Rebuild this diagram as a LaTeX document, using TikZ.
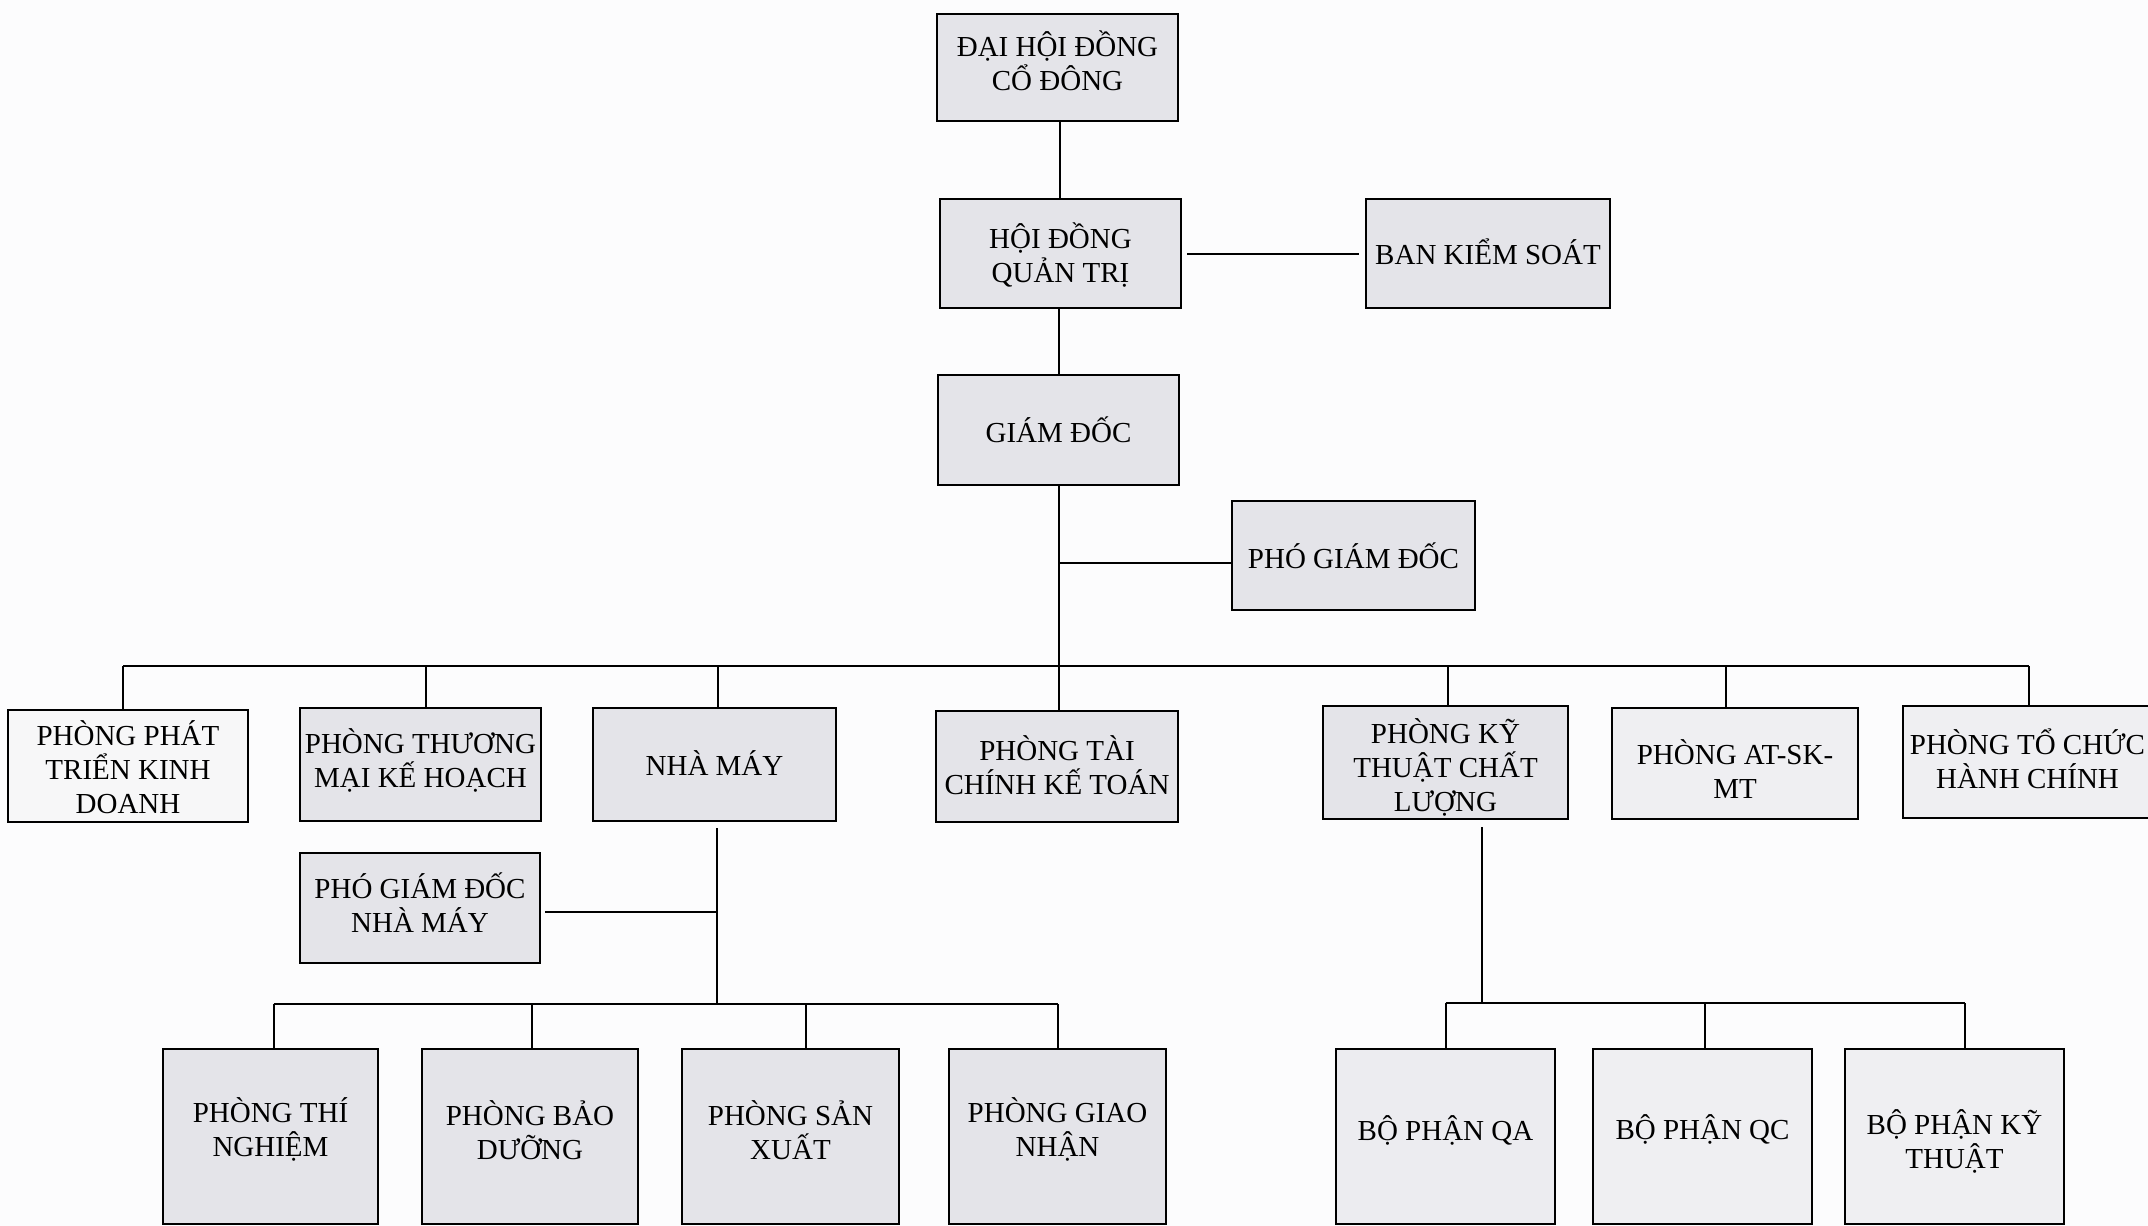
\documentclass[tikz,border=0pt]{standalone}
\usepackage{fontspec}
\setmainfont{Liberation Serif}
\definecolor{gfill}{RGB}{228,228,233}
\definecolor{lfill}{RGB}{239,239,242}
\definecolor{wfill}{RGB}{247,247,248}
\definecolor{bgc}{RGB}{252,252,253}
\tikzset{
  obx/.style={draw=black, line width=1.1pt, inner sep=0pt},
  otxt/.style={inner sep=0pt, align=center,
    font=\fontsize{14.5}{17}\selectfont, text=black},
  conn/.style={line width=1pt, draw=black}
}
% \obox{name}{x}{y}{width pt}{height pt}{fill}{text shift pt}{text}
\newcommand\obox[8]{%
  \node[obx, fill=#6, minimum width=#4pt, minimum height=#5pt] (#1) at (#2,#3) {};
  \node[otxt] (#1-t) at ([yshift=#7pt]#1.center) {#8};}
\begin{document}
\begin{tikzpicture}[x=0.5pt,y=-0.5pt]
\useasboundingbox (0,0) rectangle (2148,1226);
\fill[bgc] (0,0) rectangle (2148,1226);

% top levels
\obox{dh}{1057.5}{67.5}{120.5}{53.5}{gfill}{3.4}{ĐẠI HỘI ĐỒNG\\CỔ ĐÔNG}
\obox{hd}{1060.5}{253.5}{120.5}{54.5}{gfill}{-0.7}{HỘI ĐỒNG\\QUẢN TRỊ}
\obox{bks}{1488}{253.5}{122}{54.5}{gfill}{0.7}{BAN KIỂM SOÁT}
\obox{gd}{1058.5}{430}{120.5}{55}{gfill}{0}{GIÁM ĐỐC}
\obox{pgd}{1353.5}{555.5}{121.5}{54.5}{gfill}{0}{PHÓ GIÁM ĐỐC}

% second row
\obox{p1}{128}{766}{120}{56}{wfill}{-0.7}{PHÒNG PHÁT\\TRIỂN KINH\\DOANH}
\obox{p2}{420.5}{764.5}{120.5}{56.5}{gfill}{2}{PHÒNG THƯƠNG\\MẠI KẾ HOẠCH}
\obox{p3}{714.5}{764.5}{121.5}{56.5}{gfill}{0.7}{NHÀ MÁY}
\obox{p4}{1057}{766.5}{121}{55.5}{gfill}{0.7}{PHÒNG TÀI\\CHÍNH KẾ TOÁN}
\obox{p5}{1445.5}{762.5}{122.5}{56.5}{gfill}{-2.4}{PHÒNG KỸ\\THUẬT CHẤT\\LƯỢNG}
\obox{p6}{1735}{763.5}{123}{55.5}{lfill}{-2.7}{PHÒNG AT-SK-\\MT}
\obox{p7}{2027.5}{762}{124.5}{56}{lfill}{1.4}{PHÒNG TỔ CHỨC\\HÀNH CHÍNH}

% factory deputy
\obox{pg2}{420}{908}{120}{55}{gfill}{2.7}{PHÓ GIÁM ĐỐC\\NHÀ MÁY}

% third row left
\obox{b1}{270.5}{1136.5}{107.5}{87.5}{gfill}{3.3}{PHÒNG THÍ\\NGHIỆM}
\obox{b2}{530}{1136.5}{108}{87.5}{gfill}{3.3}{PHÒNG BẢO\\DƯỠNG}
\obox{b3}{790.5}{1136.5}{108.5}{87.5}{gfill}{3.3}{PHÒNG SẢN\\XUẤT}
\obox{b4}{1057.5}{1136.5}{108.5}{87.5}{gfill}{3.3}{PHÒNG GIAO\\NHẬN}

% third row right
\obox{q1}{1445.5}{1136.5}{109.5}{87.5}{gfill!70!white}{3.2}{BỘ PHẬN QA}
\obox{q2}{1702.5}{1136.5}{109.5}{87.5}{lfill}{3.5}{BỘ PHẬN QC}
\obox{q3}{1954.5}{1136.5}{109.5}{87.5}{lfill}{-2.7}{BỘ PHẬN KỸ\\THUẬT}

% connectors top
\draw[conn] ([xshift=1pt]dh.south) -- ([xshift=1pt]dh.south |- hd.north);
\draw[conn] ([xshift=-1pt]hd.south) -- ([xshift=-1pt]hd.south |- gd.north);
\draw[conn] ([xshift=2.5pt]hd.east) -- ([xshift=-3pt]bks.west |- hd.east);
\draw[conn] (gd.south) -- (gd.south |- p4.north);
\coordinate (pgdin) at ([yshift=-3.5pt]pgd.west);
\draw[conn] (pgdin -| gd.south) -- (pgdin);

% main bus
\coordinate (bus) at (0,666);
\draw[conn] ([xshift=-2.5pt]p1.north |- bus) -- ([xshift=0.75pt]p7.north |- bus);
\foreach \n/\s in {p1/-2.5,p2/2.75,p3/1.75,p5/1.25,p6/-4.5,p7/0.75}
  \draw[conn] ([xshift=\s pt]\n.north) -- ([xshift=\s pt]\n.north |- bus);

% factory branch
\coordinate (bus2) at (0,1004);
\coordinate (nmd) at ([xshift=1.25pt,yshift=-3pt]p3.south);
\draw[conn] (nmd) -- (nmd |- bus2);
\coordinate (pg2out) at ([xshift=2pt,yshift=-2pt]pg2.east);
\draw[conn] (pg2out) -- (pg2out -| nmd);
\draw[conn] ([xshift=1.5pt]b1.north |- bus2) -- (b4.north |- bus2);
\foreach \n/\s in {b1/1.5,b2/1,b3/7.75,b4/0}
  \draw[conn] ([xshift=\s pt]\n.north) -- ([xshift=\s pt]\n.north |- bus2);

% quality branch
\coordinate (bus3) at (0,1003);
\coordinate (ktd) at ([xshift=18.25pt,yshift=-3.5pt]p5.south);
\draw[conn] (ktd) -- (ktd |- bus3);
\draw[conn] (q1.north |- bus3) -- ([xshift=5.25pt]q3.north |- bus3);
\foreach \n/\s in {q1/0,q2/1.25,q3/5.25}
  \draw[conn] ([xshift=\s pt]\n.north) -- ([xshift=\s pt]\n.north |- bus3);
\end{tikzpicture}
\end{document}
